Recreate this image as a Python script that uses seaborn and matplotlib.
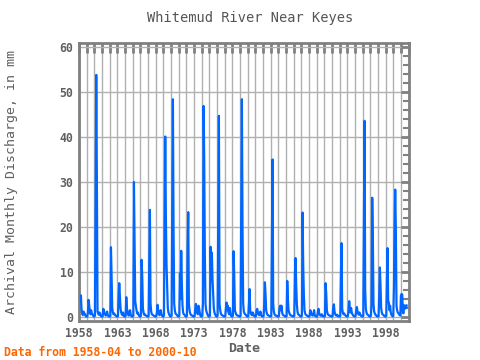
import numpy as np
import pandas as pd
import matplotlib
matplotlib.use("Agg")
import matplotlib.pyplot as plt
from matplotlib.ticker import MultipleLocator, FixedLocator
import seaborn as sns

# ---- data (monthly discharge, mm) ----
start_year = 1958
start_month = 4
y1958 = [4.8, 1.6, 0.8, 0.4, 1.2, 0.9, 0.7, 0.3, 0.1]  # Apr..Dec
y1959 = [0.1, 0.1, 1.0, 3.8, 2.5, 1.2, 0.6, 1.5, 0.8, 0.6, 0.3, 0.1]
y1960 = [0.1, 0.3, 27.0, 53.8, 30.3, 1.2, 0.8, 0.5, 1.0, 0.7, 0.3, 0.1]
y1961 = [0.1, 0.1, 1.8, 1.5, 0.8, 0.5, 0.3, 0.6, 1.2, 0.5, 0.2, 0.1]
y1962 = [0.1, 0.2, 15.5, 9.3, 2.0, 1.0, 0.6, 0.8, 0.5, 0.4, 0.2, 0.1]
y1963 = [0.1, 0.2, 4.3, 7.5, 4.5, 2.0, 1.0, 0.6, 0.4, 1.0, 0.3, 0.1]
y1964 = [0.1, 0.2, 4.4, 2.0, 1.0, 0.5, 0.3, 1.2, 1.5, 0.5, 0.2, 0.1]
y1965 = [0.1, 0.3, 30.0, 17.7, 3.5, 2.5, 1.5, 0.8, 1.0, 0.6, 0.3, 0.1]
y1966 = [0.1, 0.3, 12.7, 9.0, 2.0, 1.0, 0.5, 0.6, 0.4, 0.3, 0.2, 0.1]
y1967 = [0.1, 0.2, 11.7, 23.8, 3.0, 1.2, 0.6, 0.5, 0.4, 0.3, 0.2, 0.1]
y1968 = [0.1, 0.2, 1.0, 2.7, 1.5, 0.6, 0.4, 0.8, 1.5, 0.6, 0.3, 0.1]
y1969 = [0.1, 0.3, 19.9, 40.1, 22.4, 11.7, 7.0, 2.0, 1.0, 0.6, 0.3, 0.1]
y1970 = [0.1, 0.3, 24.0, 48.4, 19.9, 3.0, 1.5, 0.8, 0.6, 0.5, 0.3, 0.1]
y1971 = [0.1, 0.3, 9.7, 4.0, 14.7, 7.3, 2.5, 1.0, 0.6, 0.5, 0.3, 0.1]
y1972 = [0.1, 0.3, 14.9, 23.3, 3.0, 1.5, 0.8, 0.5, 0.4, 0.3, 0.2, 0.1]
y1973 = [0.1, 0.2, 1.8, 2.9, 1.5, 1.0, 0.6, 2.5, 2.0, 1.0, 0.3, 0.1]
y1974 = [0.1, 0.3, 3.0, 46.9, 35.4, 13.7, 3.0, 1.5, 1.0, 0.6, 0.3, 0.1]
y1975 = [0.1, 0.3, 15.6, 8.0, 14.3, 8.4, 5.2, 2.0, 1.0, 0.6, 0.3, 0.1]
y1976 = [0.1, 0.3, 22.3, 44.7, 3.0, 1.5, 0.8, 0.5, 0.4, 0.3, 0.2, 0.1]
y1977 = [0.1, 0.2, 2.0, 3.2, 1.5, 2.5, 1.0, 0.6, 2.0, 1.0, 0.3, 0.1]
y1978 = [0.1, 0.3, 14.6, 9.2, 1.5, 1.0, 0.6, 0.4, 0.3, 0.3, 0.2, 0.1]
y1979 = [0.1, 0.3, 24.1, 48.4, 19.9, 3.0, 1.2, 0.8, 0.6, 0.5, 0.3, 0.1]
y1980 = [0.1, 0.2, 2.9, 6.2, 1.5, 0.8, 0.5, 0.4, 1.0, 0.6, 0.3, 0.1]
y1981 = [0.1, 0.2, 1.5, 1.8, 1.0, 0.6, 0.4, 0.8, 1.2, 0.5, 0.2, 0.1]
y1982 = [0.1, 0.2, 3.0, 7.7, 5.1, 1.5, 0.8, 0.5, 0.4, 0.3, 0.2, 0.1]
y1983 = [0.1, 0.2, 17.3, 35.0, 3.0, 1.2, 0.6, 0.4, 0.3, 0.3, 0.2, 0.1]
y1984 = [0.1, 0.2, 2.0, 2.5, 1.5, 2.5, 1.0, 0.5, 0.4, 0.3, 0.2, 0.1]
y1985 = [0.1, 0.2, 8.0, 4.1, 1.5, 1.0, 0.6, 0.4, 0.3, 0.3, 0.2, 0.1]
y1986 = [0.1, 0.3, 9.5, 13.1, 7.3, 2.9, 1.2, 0.6, 0.5, 0.4, 0.2, 0.1]
y1987 = [0.1, 0.3, 23.2, 11.4, 4.9, 1.5, 0.8, 0.5, 0.4, 0.3, 0.2, 0.1]
y1988 = [0.1, 0.2, 1.5, 1.2, 0.6, 0.4, 0.3, 0.5, 1.5, 0.4, 0.2, 0.1]
y1989 = [0.1, 0.2, 1.2, 1.8, 0.8, 0.5, 0.3, 0.3, 0.6, 0.3, 0.2, 0.1]
y1990 = [0.1, 0.2, 7.5, 5.3, 1.5, 0.8, 0.5, 0.4, 0.3, 0.3, 0.2, 0.1]
y1991 = [0.1, 0.2, 2.1, 2.8, 1.2, 0.6, 0.4, 0.3, 0.5, 0.3, 0.2, 0.1]
y1992 = [0.1, 0.3, 9.2, 16.4, 1.8, 1.0, 0.6, 0.8, 0.5, 0.4, 0.2, 0.1]
y1993 = [0.1, 0.2, 1.5, 3.5, 1.8, 1.0, 2.0, 1.0, 0.6, 0.4, 0.2, 0.1]
y1994 = [0.1, 0.2, 1.5, 2.2, 1.2, 0.8, 0.5, 1.0, 0.6, 0.4, 0.2, 0.1]
y1995 = [0.1, 0.3, 22.8, 43.6, 6.1, 1.8, 1.0, 0.6, 0.5, 0.4, 0.2, 0.1]
y1996 = [0.1, 0.3, 3.0, 26.5, 17.6, 3.0, 1.2, 0.8, 0.5, 0.4, 0.2, 0.1]
y1997 = [0.1, 0.2, 4.7, 11.0, 7.0, 2.0, 1.0, 0.6, 0.5, 0.4, 0.2, 0.1]
y1998 = [0.1, 0.3, 8.6, 15.3, 3.6, 3.2, 1.5, 2.5, 1.0, 0.5, 0.3, 0.1]
y1999 = [0.2, 6.5, 19.5, 28.3, 19.5, 2.5, 1.5, 1.0, 0.8, 0.6, 0.4, 0.3]
y2000 = [4.8, 5.1, 5.0, 1.0, 0.8, 2.6, 1.8, 2.5, 2.0, 2.6]  # Jan..Oct

years = [y1958, y1959, y1960, y1961, y1962, y1963, y1964, y1965, y1966,
         y1967, y1968, y1969, y1970, y1971, y1972, y1973, y1974, y1975,
         y1976, y1977, y1978, y1979, y1980, y1981, y1982, y1983, y1984,
         y1985, y1986, y1987, y1988, y1989, y1990, y1991, y1992, y1993,
         y1994, y1995, y1996, y1997, y1998, y1999, y2000]

dates, vals = [], []
for i, yl in enumerate(years):
    yr = start_year + i
    m0 = start_month if i == 0 else 1
    for j, v in enumerate(yl):
        dates.append(yr + (m0 + j - 1) / 12.0)
        vals.append(v)
df = pd.DataFrame({"Date": dates, "Discharge": vals})

title = "Whitemud River Near Keyes"
xlabel = "Date"
ylabel = "Archival Monthly Discharge, in mm"
footer = "Data from 1958-04 to 2000-10"

# ---- style ----
sns.set_style("white")
plt.rcParams["font.family"] = ["DejaVu Sans Mono"]
grey = "#808080"
txtgrey = "#606060"

fig = plt.figure(figsize=(4.8, 3.6), dpi=100)
ax = fig.add_axes([79 / 480, 1 - 321 / 360, 330 / 480, 278 / 360])

ax.set_xlim(1958.0, 2001.05)
ax.set_ylim(-0.9, 60.9)

ax.xaxis.set_major_locator(FixedLocator(list(range(1958, 2000, 5))))
ax.xaxis.set_minor_locator(MultipleLocator(1))
ax.yaxis.set_major_locator(MultipleLocator(10))
ax.yaxis.set_minor_locator(MultipleLocator(2))

ax.grid(True, which="both", axis="x", color="#b0b0b0", linewidth=1.0)
ax.grid(True, which="major", axis="y", color="#b0b0b0", linewidth=1.0)
ax.set_axisbelow(True)

sns.lineplot(data=df, x="Date", y="Discharge", ax=ax, color="#0066ff",
             linewidth=1.6, zorder=3)

for s in ax.spines.values():
    s.set_color(grey)
    s.set_linewidth(2.0)

ax.tick_params(which="both", direction="in", top=True, right=True,
               color=grey, width=1.5)
ax.tick_params(axis="x", which="both", length=7, width=2)
ax.tick_params(axis="y", which="major", length=6, width=2)
ax.tick_params(axis="y", which="minor", length=4, width=1.5)
ax.tick_params(axis="both", which="major", labelsize=8.3, labelcolor=txtgrey,
               pad=4)
ax.set_xticklabels([str(y) for y in range(1958, 2000, 5)], fontweight="bold")
for lab in ax.get_yticklabels():
    lab.set_fontweight("bold")

ax.set_xlabel(xlabel, fontsize=9.5, color=txtgrey, fontweight="bold", labelpad=2)
ax.set_ylabel(ylabel, fontsize=9.5, color=txtgrey, labelpad=30)

fig.text(250 / 480, 1 - 18 / 360, title, ha="center", va="center",
         fontsize=9.8, color="#555555")
fig.text(4 / 480, 1 - 352 / 360, footer, ha="left", va="center",
         fontsize=8.3, color="#ff6600", fontweight="bold")

fig.savefig("out.png", dpi=100)
